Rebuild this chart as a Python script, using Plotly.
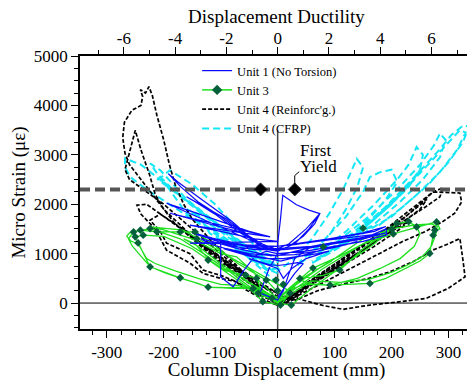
import plotly.graph_objects as go

# ---------------- data ----------------
x_tick_vals = [-300, -200, -100, 0, 100, 200, 300]
x_tick_text = ["-300", "-200", "-100", "0", "100", "200", "300"]
y_tick_vals = [0, 1000, 2000, 3000, 4000, 5000]
y_tick_text = ["0", "1000", "2000", "3000", "4000", "5000"]
duct_tick_vals = [-6, -4, -2, 0, 2, 4, 6]
duct_tick_text = ["-6", "-4", "-2", "0", "2", "4", "6"]
yield_disp_mm = 45.0          # displacement at ductility 1
first_yield_strain = 2300
first_yield_disp = [-30, 30]

unit1_disp = [0, 15, 30, 45, 35, 15, 0, -15, -35, -50, -40, -20, 0, 10,
              25, 50, 75, 90, 70, 40, 10, -20, -50, -80, -95, -75, -45, -15, 5,
              40, 80, 120, 140, 110, 70, 30, -10, -50, -90, -120, -135, -110, -70, -30, 0,
              50, 100, 150, 190, 160, 110, 60, 10, -40, -80, -120, -150, -125, -90, -50, 0,
              30, 55, 74, 65, 45, 20, 0,
              -30, -60, -100, -140, -170, -192, -175, -140, -110, -80, -50, -20, 0,
              -40, -90, -130, -160, -145, -110, -70, -30,
              -60, -100, -100, -100, -78, -60, -40, -20,
              0, -15, -31, -10, 0, 10, 20, 30,
              60, 110, 160, 190, 192, 150, 100, 50, 0,
              0, 5, 9, 33, 55, 74, 50, 20, 0, -20,
              -80, -130, -100, -60, 0, 60, 120, 170, 190, 150, 90, 30, -20,
              -195, -150, -100, -50, -13, -189, -120, -60, -13,
              -154, -100, -40, 0, -154, -100, -40, 0, 40, 90, 140, 180, 120, 60, 0]
unit1_strain = [120, 350, 600, 800, 820, 780, 760, 780, 850, 900, 860, 780, 700, 500,
                700, 900, 1000, 1050, 1000, 950, 900, 900, 950, 1050, 1100, 1050, 960, 900, 850,
                950, 1080, 1180, 1250, 1150, 1050, 980, 960, 1000, 1100, 1200, 1300, 1230, 1100, 1000, 960,
                1100, 1200, 1300, 1420, 1330, 1230, 1130, 1080, 1080, 1150, 1300, 1420, 1350, 1230, 1130, 1050,
                1200, 1500, 1810, 1600, 1350, 1150, 1050,
                1150, 1400, 1750, 2050, 2350, 2620, 2450, 2150, 1900, 1650, 1350, 1150, 1080,
                1250, 1700, 1950, 2150, 2050, 1800, 1450, 1200,
                1100, 1250, 900, 530, 330, 650, 950, 1050,
                1000, 700, 200, 100, 60, 250, 600, 900,
                1150, 1250, 1350, 1500, 1380, 1250, 1150, 1050, 1000,
                1200, 1700, 2180, 1990, 1880, 1810, 1500, 1200, 1100, 1100,
                1200, 1350, 1280, 1180, 1150, 1250, 1350, 1450, 1550, 1420, 1300, 1180, 1130,
                2020, 1850, 1650, 1450, 1340, 1818, 1600, 1420, 1340,
                1576, 1450, 1300, 1250, 1212, 1200, 1150, 1150, 1200, 1280, 1350, 1400, 1250, 1150, 1100]

unit3_disp = [0, -20, -45, -70, -90, -75, -50, -25, 0,
              10, 35, 65, 95, 80, 55, 30, 5,
              -10, -50, -100, -140, -165, -145, -120, -90, -56, -37, -20, 0,
              20, 62, 109, 150, 200, 185, 150, 109, 80, 39, 22, 5,
              -26, -50, -100, -150, -200, -236, -250, -245, -224, -171, -122, -80, -43, -20, 0,
              24, 60, 120, 170, 209, 230, 244, 250, 240, 215, 180, 140, 92, 50, 20, 0,
              -34, -80, -130, -171, -224, -253, -262, -255, -240, -224, -200, -171, -140, -122, -90, -60, -30, 0,
              20, 80, 150, 203, 250, 279, 285, 276, 273, 267, 250, 220, 190, 162, 120, 92, 60, 39, 10,
              -20, -70, -119, -145, -171, -212, -241, -260, -265, -257, -245, -230, -215, -180, -140, -100, -60, -30, 0,
              30, 100, 150, 200, 240, 270, 280, 278, 270, 255, 230, 200, 160, 110, 60, 20,
              -142, -166, -224, -200, -150, -100, -72, -40, -31, -26]
unit3_strain = [40, 150, 300, 500, 700, 600, 400, 230, 60,
                200, 400, 650, 850, 760, 560, 350, 120,
                150, 420, 800, 1150, 1300, 1200, 869, 650, 566, 500, 300, 80,
                300, 707, 950, 1200, 1500, 1380, 1100, 667, 560, 498, 200, -40,
                30, 300, 700, 1100, 1350, 1374, 1340, 1218, 733, 512, 323, 300, 297, 150, 0,
                -40, 300, 800, 1200, 1610, 1650, 1541, 1400, 1150, 900, 700, 500, 364, 380, 150, 0,
                200, 600, 1000, 1300, 1508, 1440, 1300, 1150, 950, 740, 620, 505, 400, 320, 310, 320, 200, 20,
                200, 700, 1200, 1400, 1550, 1643, 1500, 1475, 1374, 1004, 850, 667, 500, 398, 370, 364, 390, 465, 100,
                465, 800, 1238, 1440, 1440, 1441, 1475, 1420, 1350, 1250, 1200, 900, 800, 650, 500, 380, 350, 250, 50,
                400, 900, 1300, 1500, 1580, 1600, 1550, 1400, 1150, 950, 780, 620, 480, 420, 450, 250,
                1306, 1475, 1541, 1480, 1300, 1000, 935, 600, 329, 26]

unit3_peak_disp = [-253, -241, -250, -236, -245, -224, -212, -171, -145, -142, -224, -171, -122, -122,
                   -56, -37, -43, -34, -26, -20, 209, 200, 203, 150, 244, 279, 276, 273, 80, 109, 39,
                   22, 24, 5, -3, 62, 162, 92, 267, 230, 0, -10, 10]
unit3_peak_strain = [1440, 1475, 1340, 1374, 1218, 1508, 1441, 1440, 1440, 1306, 733, 512, 323, 869,
                     566, 500, 297, 200, 30, 465, 1610, 1500, 1400, 1515, 1541, 1643, 1475, 1374, 1138, 667, 498,
                     200, -40, -40, 465, 707, 398, 364, 1004, 1650, 250, 100, 380]

unit4r_disp = [0, -20, -50, -80, -95, -80, -50, -20, 0,
               10, 40, 80, 120, 140, 120, 80, 40, 5,
               -20, -70, -120, -160, -175, -160, -131, -100, -61, -30, 0,
               20, 80, 140, 200, 230, 215, 170, 120, 70, 20,
               -40, -100, -160, -206, -224, -206, -195, -154, -131, -100, -72, -61, -30, 0,
               30, 100, 170, 230, 262, 250, 210, 160, 110, 60, 10,
               -60, -120, -180, -230, -247, -240, -215, -195, -154, -131, -100, -72, -40, 0,
               40, 120, 190, 240, 273, 290, 285, 260, 220, 170, 120, 70, 20,
               -90, -150, -200, -240, -260, -268, -272, -269, -256, -240, -237, -241, -232, -226, -220, -212,
               -200, -190, -180, -165, -150, -120, -80, -40, 0,
               -120, -200, -260, -268, -250, -240, -225, -215, -200, -180, -140, -100, -50, 0,
               3, 33, 80, 115, 162, 210, 261, 300, 329, 325, 320, 300, 272, 240, 197, 160, 120, 70, 30,
               50, 140, 220, 250, 273, 320, 323, 311, 290, 260, 220, 170, 120, 60, 10]
unit4r_strain = [-50, 150, 400, 650, 800, 720, 480, 200, 0,
                 -30, 250, 550, 850, 1000, 880, 600, 300, 0,
                 200, 650, 1050, 1400, 1550, 1450, 1150, 850, 550, 250, -20,
                 100, 550, 1000, 1450, 1650, 1500, 1150, 800, 450, 100,
                 400, 900, 1450, 1800, 1677, 1450, 1212, 1000, 667, 560, 430, 303, 100, -50,
                 200, 750, 1300, 1800, 2100, 1900, 1550, 1150, 750, 380, 50,
                 600, 1100, 1600, 2000, 1980, 1800, 1500, 1070, 808, 600, 500, 430, 200, 0,
                 300, 950, 1500, 1950, 2250, 2330, 2150, 1950, 1650, 1250, 850, 450, 50,
                 850, 1350, 1900, 2500, 2800, 3030, 3350, 3660, 3900, 4000, 4180, 4320, 4250, 4380, 4200, 3800,
                 3300, 2800, 2400, 2000, 1700, 1300, 850, 400, 0,
                 1200, 2000, 2500, 2700, 3495, 3100, 2600, 2200, 1900, 1600, 1200, 800, 400, -50,
                 -60, 95, -50, -127, -40, 20, 95, 300, 531, 900, 1307, 1200, 1071, 850, 632, 500, 400, 250, 50,
                 400, 1100, 1700, 2000, 2248, 2228, 2046, 1818, 1650, 1450, 1250, 950, 650, 300, 0]

unit4c_disp = [0, -30, -60, -90, -110, -95, -60, -30, 0,
               -20, -60, -100, -140, -160, -140, -119, -80, -37, -19, 0,
               -40, -90, -130, -170, -200, -189, -160, -130, -90, -50, -10,
               -60, -110, -160, -206, -224, -210, -180, -140, -100, -60, -20,
               -80, -140, -200, -240, -268, -268, -259, -230, -190, -150, -110, -70, -30, 0,
               -100, -170, -210, -189, -150, -110, -70, -30, 0,
               0, 30, 60, 90, 115, 139, 150, 140, 120, 95, 65, 35,
               40, 80, 120, 150, 162, 180, 200, 210, 190, 160, 120, 80,
               70, 120, 170, 210, 230, 244, 255, 250, 230, 195, 150, 100,
               100, 160, 210, 250, 275, 285, 295, 285, 255, 215, 170, 120,
               130, 190, 240, 280, 305, 326, 336, 325, 300, 265, 220, 175,
               150, 210, 260, 300, 320, 330, 315, 285, 245, 200,
               60, 110, 160, 200, 230, 250, 240, 200, 150, 100, 60]
unit4c_strain = [400, 700, 1000, 1250, 1400, 1300, 1050, 800, 600,
                 700, 1100, 1450, 1750, 1900, 1800, 1408, 1150, 808, 667, 700,
                 950, 1400, 1800, 2150, 2450, 2283, 1812, 1600, 1300, 1000, 800,
                 1150, 1650, 2100, 2687, 2828, 2600, 2250, 1900, 1550, 1200, 900,
                 1350, 1900, 2450, 2800, 2929, 2754, 2552, 2300, 2000, 1700, 1400, 1100, 850, 750,
                 1500, 2150, 2500, 2687, 2400, 2000, 1500, 1050, 900,
                 650, 900, 1300, 1800, 2300, 2920, 2750, 2350, 1900, 1450, 1050, 750,
                 850, 1250, 1750, 2250, 2550, 2650, 2700, 2450, 2100, 1700, 1300, 950,
                 1000, 1450, 2000, 2500, 2800, 3158, 3000, 2700, 2350, 1950, 1500, 1100,
                 1200, 1750, 2300, 2800, 3200, 3434, 3300, 2950, 2500, 2050, 1600, 1250,
                 1350, 1950, 2550, 3050, 3400, 3596, 3570, 3250, 2850, 2400, 1950, 1550,
                 1500, 2150, 2750, 3250, 3500, 3450, 3100, 2650, 2200, 1750,
                 800, 1200, 1650, 2050, 2400, 2700, 2500, 2000, 1500, 1100, 850]

x_range = [-347, 343]
y_range = [-525, 5000]

# ---------------- figure ----------------
SERIF = "Liberation Serif"
BLUE = "#0a0aff"
GREEN = "#1ee01e"
DKGREEN = "#04603a"
CYAN = "#14e6f5"

fig = go.Figure()

fig.add_trace(go.Scatter(x=unit4c_disp, y=unit4c_strain, mode="lines", name="Unit 4 (CFRP)",
                         line=dict(color=CYAN, width=2, dash="7px,4px"), legendrank=4))
fig.add_trace(go.Scatter(x=unit4r_disp, y=unit4r_strain, mode="lines", name="Unit 4 (Reinforc'g.)",
                         line=dict(color="black", width=1.7, dash="4px,2px"), legendrank=3))
fig.add_trace(go.Scatter(x=unit3_disp, y=unit3_strain, mode="lines", showlegend=False,
                         line=dict(color=GREEN, width=1.3)))
fig.add_trace(go.Scatter(x=unit1_disp, y=unit1_strain, mode="lines", name="Unit 1 (No Torsion)",
                         line=dict(color=BLUE, width=1.2), legendrank=1))
fig.add_trace(go.Scatter(x=unit3_peak_disp, y=unit3_peak_strain, mode="markers", showlegend=False,
                         marker=dict(symbol="diamond", size=6, color=DKGREEN)))
fig.add_trace(go.Scatter(x=[None], y=[None], mode="lines+markers", name="Unit 3",
                         line=dict(color=GREEN, width=1.5),
                         marker=dict(symbol="diamond", size=8, color=DKGREEN), legendrank=2))

# first yield line & markers
fig.add_trace(go.Scatter(x=x_range, y=[first_yield_strain, first_yield_strain], mode="lines",
                         showlegend=False, line=dict(color="#555555", width=4, dash="10px,5px")))
fig.add_trace(go.Scatter(x=first_yield_disp, y=[first_yield_strain] * 2, mode="markers",
                         showlegend=False,
                         marker=dict(symbol="diamond", size=10, color="black",
                                     line=dict(color="#333333", width=1))))
# leader to "First Yield"
fig.add_trace(go.Scatter(x=[first_yield_disp[1], first_yield_disp[1], first_yield_disp[1] + 8],
                         y=[first_yield_strain, first_yield_strain + 280, first_yield_strain + 360],
                         mode="lines", showlegend=False, line=dict(color="black", width=1)))

# invisible trace for top axis
fig.add_trace(go.Scatter(x=[r / yield_disp_mm for r in x_range], y=[None, None], xaxis="x2",
                         mode="markers", showlegend=False, hoverinfo="skip"))

fig.add_annotation(x=36, y=3080, text="First", showarrow=False, xanchor="left",
                   font=dict(family=SERIF, size=17, color="black"))
fig.add_annotation(x=36, y=2760, text="Yield", showarrow=False, xanchor="left",
                   font=dict(family=SERIF, size=17, color="black"))
fig.add_annotation(x=0.5, y=1.143, xref="paper", yref="paper", text="Displacement Ductility",
                   showarrow=False, xanchor="center", yanchor="middle",
                   font=dict(family=SERIF, size=19, color="black"))

# zero lines
fig.add_shape(type="line", x0=x_range[0], x1=x_range[1], y0=0, y1=0, xref="x", yref="y",
              line=dict(color="black", width=1), layer="below")
fig.add_shape(type="line", x0=0, x1=0, y0=y_range[0], y1=3495, xref="x", yref="y",
              line=dict(color="#444444", width=1.5), layer="below")

tickfont = dict(family=SERIF, size=17, color="black")
titlefont = dict(family=SERIF, size=19, color="black")

# page has an 8px body margin, so the figure is 8px smaller and margins shifted
fig.update_layout(
    width=467, height=373,
    margin=dict(l=72, r=2, t=48, b=52),
    paper_bgcolor="white", plot_bgcolor="white",
    font=dict(family=SERIF, color="black"),
    xaxis=dict(range=x_range, tickmode="array", tickvals=x_tick_vals, ticktext=x_tick_text,
               automargin=False,
               ticks="outside", ticklen=7, tickwidth=1.2, tickcolor="black",
               minor=dict(tickmode="linear", tick0=0, dtick=25, ticks="outside", ticklen=4,
                          tickcolor="black", tickwidth=1),
               showline=True, linecolor="black", linewidth=1.5, showgrid=False, zeroline=False,
               tickfont=tickfont, title=dict(text="Column Displacement (mm)", font=titlefont, standoff=0)),
    xaxis2=dict(range=[r / yield_disp_mm for r in x_range], overlaying="x", side="top",
                automargin=False, ticklabelstandoff=-4,
                tickmode="array", tickvals=duct_tick_vals, ticktext=duct_tick_text,
                ticks="outside", ticklen=7, tickwidth=1.2, tickcolor="black",
                minor=dict(tickmode="linear", tick0=0, dtick=1, ticks="outside", ticklen=4,
                           tickcolor="black", tickwidth=1),
                showline=True, linecolor="black", linewidth=2, showgrid=False, zeroline=False,
                tickfont=tickfont),
    yaxis=dict(range=y_range, tickmode="array", tickvals=y_tick_vals, ticktext=y_tick_text,
               automargin=False,
               ticks="outside", ticklen=7, tickwidth=1.2, tickcolor="black",
               minor=dict(tickmode="linear", tick0=0, dtick=250, ticks="outside", ticklen=4,
                          tickcolor="black", tickwidth=1),
               showline=True, linecolor="black", linewidth=1.5, showgrid=False, zeroline=False,
               tickfont=tickfont, title=dict(text="Micro Strain (με)", font=titlefont, standoff=4)),
    legend=dict(x=0.298, y=1.0, xanchor="left", yanchor="top", bgcolor="rgba(0,0,0,0)",
                font=dict(family=SERIF, size=12.5, color="black"), tracegroupgap=0),
    showlegend=True,
)

fig.write_html("out.html")
